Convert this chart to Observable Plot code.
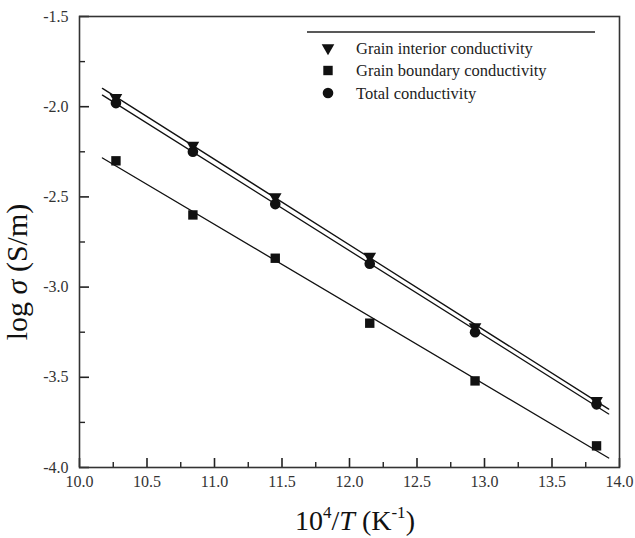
<!DOCTYPE html>
<html><head><meta charset="utf-8">
<script src="https://cdn.jsdelivr.net/npm/d3@7"></script>
<script src="https://cdn.jsdelivr.net/npm/@observablehq/plot@0.6"></script>
<style>
body{margin:0;background:#fff}
#chart{width:635px;height:538px}
</style>
</head><body><div id="chart"></div>
<script>
// ---- data ----
const invT = [10.27, 10.84, 11.45, 12.15, 12.93, 13.83];           // 10^4/T (K^-1)
const grainInterior = [-1.95, -2.215, -2.50, -2.83, -3.22, -3.63];  // log sigma
const grainBoundary = [-2.30, -2.60, -2.84, -3.20, -3.52, -3.88];
const totalCond     = [-1.98, -2.25, -2.54, -2.87, -3.25, -3.65];
const seriesNames   = ["Grain interior conductivity", "Grain boundary conductivity", "Total conductivity"];
const seriesSymbols = ["triangle", "square", "circle"];
const fitRange = [10.17, 13.92];
const xTickLabels = [10.0, 10.5, 11.0, 11.5, 12.0, 12.5, 13.0, 13.5, 14.0];
const xMinorTicks = [10.25, 10.75, 11.25, 11.75, 12.25, 12.75, 13.25, 13.75];
const yTickLabels = [-1.5, -2.0, -2.5, -3.0, -3.5, -4.0];
const yMinorTicks = [-1.75, -2.25, -2.75, -3.25, -3.75];

// ---- build tables ----
const seriesValues = [grainInterior, grainBoundary, totalCond];
const points = [];
seriesValues.forEach((vals, i) => vals.forEach((v, j) => points.push({x: invT[j], y: v, s: seriesNames[i], sym: seriesSymbols[i]})));

function fit(xs, ys) {
  const mx = d3.mean(xs), my = d3.mean(ys);
  let num = 0, den = 0;
  xs.forEach((x, i) => { num += (x - mx) * (ys[i] - my); den += (x - mx) ** 2; });
  const b = num / den;
  return {b, a: my - b * mx};
}
const fitLines = [];
seriesValues.forEach((vals, i) => {
  const {a, b} = fit(invT, vals);
  fitRange.forEach(x => fitLines.push({x, y: a + b * x, s: seriesNames[i]}));
});

const W = 635, H = 538, mL = 79, mR = 16, mT = 16, mB = 71;
const plotH = H - mT - mB, plotW = W - mL - mR;
const font = "Liberation Serif, Times New Roman, serif";
const fmt = d => d.toFixed(1);

const chart = Plot.plot({
  width: W, height: H,
  marginLeft: mL, marginRight: mR, marginTop: mT, marginBottom: mB,
  style: {fontFamily: font, background: "#fff", color: "#222"},
  x: {domain: [10, 14]},
  y: {domain: [-4, -1.5]},
  symbol: {domain: seriesNames, range: seriesSymbols},
  marks: [
    Plot.axisX(xTickLabels, {tickSize: 0, tickPadding: 8, tickFormat: fmt, fontSize: 16, fill: "#333", label: null}),
    Plot.axisY(yTickLabels, {tickSize: 0, tickPadding: 11, tickFormat: fmt, fontSize: 16, fill: "#333", label: null}),
    Plot.tickX(xTickLabels, {x: d => d, insetTop: plotH - 9, stroke: "#222", strokeWidth: 1.6}),
    Plot.tickX(xMinorTicks, {x: d => d, insetTop: plotH - 5, stroke: "#222", strokeWidth: 1.4}),
    Plot.tickY(yTickLabels, {y: d => d, insetRight: plotW - 10, stroke: "#222", strokeWidth: 1.6}),
    Plot.tickY(yMinorTicks, {y: d => d, insetRight: plotW - 6, stroke: "#222", strokeWidth: 1.4}),
    Plot.line(fitLines, {x: "x", y: "y", z: "s", stroke: "#111", strokeWidth: 1.3}),
    Plot.dot(points.filter(d => d.sym === "triangle"), {x: "x", y: "y", symbol: "s", r: 4.7, fill: "#111", stroke: "none", rotate: 180}),
    Plot.dot(points.filter(d => d.sym !== "triangle"), {x: "x", y: "y", symbol: "s", r: 5.3, fill: "#111", stroke: "none"}),
    Plot.frame({stroke: "#333", strokeWidth: 1.6})
  ]
});
document.getElementById("chart").appendChild(chart);

// ---- axis titles and legend ----
const svg = d3.select(chart);
const yl = svg.append("text")
  .attr("transform", `translate(27, 272) rotate(-90)`)
  .attr("text-anchor", "middle").attr("font-family", font).attr("font-size", 30).attr("fill", "#111");
yl.append("tspan").text("log ");
yl.append("tspan").attr("font-style", "italic").text("σ");
yl.append("tspan").text(" (S/m)");

const xl = svg.append("text")
  .attr("x", (mL + W - mR) / 2 + 6).attr("y", 530)
  .attr("text-anchor", "middle").attr("font-family", font).attr("font-size", 28).attr("fill", "#111");
xl.append("tspan").text("10");
xl.append("tspan").attr("font-size", 17).attr("dy", -12).text("4");
xl.append("tspan").attr("dy", 12).text("/");
xl.append("tspan").attr("font-style", "italic").text("T");
xl.append("tspan").text(" (K");
xl.append("tspan").attr("font-size", 17).attr("dy", -12).text("-1");
xl.append("tspan").attr("dy", 12).text(")");

const lg = svg.append("g").attr("text-anchor", "start");
lg.append("line").attr("x1", 307).attr("x2", 595).attr("y1", 32).attr("y2", 32).attr("stroke", "#222").attr("stroke-width", 1.5);
const symMap = {triangle: d3.symbolTriangle, square: d3.symbolSquare, circle: d3.symbolCircle};
const rMap = {triangle: 4.7, square: 5.3, circle: 5.3};
seriesNames.forEach((name, i) => {
  const cy = 48 + i * 22.5;
  const sym = seriesSymbols[i];
  lg.append("path")
    .attr("d", d3.symbol(symMap[sym], Math.PI * rMap[sym] ** 2)())
    .attr("transform", `translate(328, ${cy}) rotate(${sym === "triangle" ? 180 : 0})`)
    .attr("fill", "#111");
  lg.append("text").attr("x", 356).attr("y", cy + 5.5).attr("text-anchor", "start")
    .attr("font-family", font).attr("font-size", 16.5).attr("fill", "#222").text(name);
});
</script>
</body></html>
